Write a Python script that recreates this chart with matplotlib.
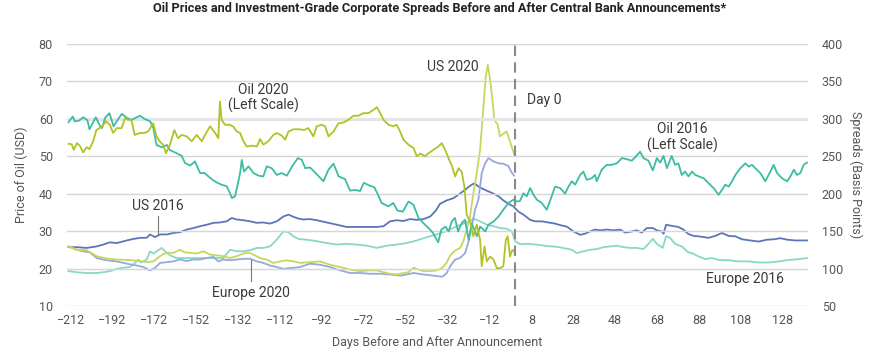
import matplotlib
matplotlib.use("Agg")
import matplotlib.pyplot as plt

# ---------------- data ----------------
oil2016_days = [-213, -211, -210, -208, -206, -204, -203, -200, -198, -197, -195.6, -193.5, -191.5, -190, -187.6, -185, -183, -180.5, -179, -176.5, -174, -172.5, -171, -168.5, -166, -164.5, -161.4, -159, -157.4, -155, -152.6, -150.2, -148, -145.4, -144, -142.3, -140, -137.5, -136, -135, -133.5, -132.4, -131.1, -130.3, -129.2, -127.1, -124.7, -122.3, -120, -118.4, -116, -113.6, -111.2, -108.8, -106, -103.5, -101.6, -100, -97.7, -94.5, -91.3, -88.9, -86.5, -84, -81, -78.6, -76.2, -73.8, -72, -69.5, -67, -65.5, -63.5, -60.3, -57.9, -56, -53.4, -50.7, -48.3, -45.9, -42.8, -40.4, -39, -36.5, -35, -33, -31.5, -30, -28.5, -27, -25.3, -23.7, -22, -20.5, -18, -16.5, -14, -12.5, -10, -7.7, -5.4, -3, -0.6, 1, 2.5, 4.2, 5.8, 7.4, 9, 10.6, 13, 15.3, 17.7, 19.3, 21.7, 24.1, 25.7, 27.3, 28.9, 31.3, 32.8, 34.4, 36.8, 38.4, 39.2, 41.6, 44, 46.4, 48.8, 51.2, 53.5, 55.9, 57.5, 59.9, 61.5, 63.9, 66, 67.9, 69.5, 71.1, 72.7, 75, 76.6, 78.2, 79.8, 81.4, 83, 84.7, 86.3, 87.9, 90.3, 92.6, 95, 97.4, 99, 100.6, 102.2, 103.8, 105.4, 107.8, 110.2, 111.8, 113.3, 114.9, 117.3, 119.7, 122.1, 123.7, 125.3, 127.7, 130.1, 131.7, 133.3, 134.8, 136.4, 138, 139.6]
oil2016_usd = [59.1, 60.6, 59.3, 59.5, 60.4, 59.6, 57.2, 60.4, 58.1, 57.5, 60.2, 61.5, 58.0, 59.3, 61.3, 60.2, 59.7, 60.4, 60.8, 59.9, 59.3, 57.5, 53.0, 52.4, 53.0, 51.6, 50.8, 50.1, 48.2, 47.5, 48.6, 45.5, 45.5, 44.2, 43.6, 43.0, 42.4, 42.0, 40.2, 38.8, 39.3, 42.0, 45.5, 49.0, 45.9, 47.3, 45.5, 44.8, 44.6, 47.3, 46.8, 45.0, 45.5, 44.8, 47.5, 49.5, 49.0, 46.8, 47.0, 45.2, 43.3, 46.4, 48.0, 44.6, 43.9, 40.8, 41.0, 40.7, 42.9, 42.2, 41.7, 40.0, 37.5, 36.6, 37.5, 35.5, 35.2, 37.9, 37.0, 33.5, 31.7, 30.4, 29.5, 27.0, 30.4, 31.2, 29.9, 32.6, 33.5, 29.9, 32.1, 33.0, 27.7, 32.1, 28.6, 31.2, 29.9, 31.7, 32.6, 33.9, 35.7, 37.5, 38.4, 37.9, 38.0, 40.1, 39.3, 41.5, 39.7, 38.4, 37.5, 35.7, 39.3, 41.9, 41.5, 40.0, 41.9, 43.3, 42.4, 45.0, 45.9, 43.7, 44.1, 45.0, 43.3, 46.4, 47.7, 47.7, 48.1, 49.5, 49.2, 48.8, 49.7, 51.2, 49.5, 48.8, 46.2, 49.5, 48.3, 50.1, 46.8, 50.1, 47.7, 48.1, 45.0, 45.9, 44.6, 45.9, 45.0, 44.6, 44.1, 42.8, 41.5, 39.7, 41.0, 42.4, 41.9, 43.3, 45.0, 46.8, 48.1, 47.2, 47.7, 46.8, 45.5, 43.3, 45.9, 47.7, 45.5, 44.1, 43.3, 44.6, 46.4, 45.0, 45.5, 47.7, 48.3]

oil2020_days = [-213, -211.5, -210.5, -209, -207.6, -206, -204.4, -203, -201.3, -199.7, -197.3, -195, -193.3, -191.7, -190, -187.7, -186, -184.5, -183, -181.4, -179, -177, -175, -172.6, -171, -169.4, -167.8, -166.5, -164.6, -162.5, -160.7, -159, -156.6, -154.2, -151.8, -149.4, -147.8, -145.4, -143, -141.5, -140.7, -139.9, -138.3, -136, -134.3, -132.7, -131.1, -129.5, -127.9, -125.5, -123.1, -121.5, -120, -117.6, -115.2, -113.6, -111.2, -109.6, -108, -105.6, -103, -100.6, -98.5, -96.1, -94.5, -92.1, -90.5, -88.9, -86.5, -84.1, -81.7, -79.4, -77, -74.6, -72.2, -69.8, -67.4, -65.8, -64.2, -62.6, -60.2, -57.9, -56.3, -54.7, -53.1, -50.7, -48.3, -46.7, -45.1, -42.7, -41.1, -38.8, -36.4, -34.8, -33.2, -31.6, -30, -28.4, -26.8, -25.3, -24, -22.9, -21.3, -19.7, -18.1, -16.5, -15.7, -14.4, -13.3, -11.7, -10.1, -8.5, -6.9, -5.4, -4.2, -3.3, -2.2, -1.1, -0.3]
oil2020_usd = [53.3, 53.2, 51.7, 53.5, 52.8, 51.0, 52.4, 51.9, 53.9, 57.0, 57.8, 59.3, 58.4, 56.2, 57.5, 57.5, 60.2, 59.7, 59.7, 55.7, 56.2, 56.2, 56.6, 58.8, 55.3, 53.9, 53.0, 50.8, 53.0, 57.0, 54.8, 55.7, 55.3, 54.0, 55.7, 54.0, 55.7, 58.0, 56.2, 54.8, 64.6, 59.7, 58.4, 58.4, 57.9, 56.6, 56.2, 54.0, 52.6, 52.8, 52.6, 54.6, 53.1, 54.0, 55.7, 56.2, 55.5, 54.4, 56.6, 57.2, 57.2, 57.0, 57.5, 55.3, 58.0, 58.4, 58.0, 55.3, 56.6, 58.8, 59.0, 59.7, 60.8, 60.8, 61.5, 61.5, 62.4, 63.1, 61.5, 59.7, 58.4, 58.0, 58.4, 56.6, 54.4, 53.1, 52.2, 50.0, 50.7, 50.0, 50.8, 51.7, 52.6, 53.5, 51.7, 49.5, 47.5, 44.6, 46.8, 45.9, 41.9, 34.4, 32.6, 28.6, 31.7, 27.7, 20.6, 25.9, 21.9, 23.2, 22.4, 20.1, 20.1, 20.6, 27.7, 28.6, 23.2, 25.0, 24.6]

us2020_days = [-213, -209, -204.4, -199.7, -194.9, -190, -185, -180.5, -175.7, -172.5, -170, -167.7, -165.3, -162.9, -159.8, -157.4, -154.6, -151.8, -148.6, -145.4, -142.3, -139.1, -135.9, -132.7, -129.5, -127.1, -124.7, -121.6, -118.4, -115.2, -112, -108.8, -105.6, -102.4, -97.7, -92.9, -88.1, -83.3, -78.6, -73.8, -69, -65.8, -62.6, -59.5, -56.3, -53.1, -50.7, -48.3, -45.9, -43.5, -40.3, -37.2, -34.5, -32.5, -30.8, -28.4, -26, -24.5, -22.9, -21.3, -19.7, -18.1, -16.5, -14.9, -13.8, -12.8, -11.7, -10.6, -9.7, -8.1, -7, -5.4, -3.8, -2.2, -0.3]
us2020_bp = [129.5, 125.0, 124.5, 116.5, 113.5, 112.0, 111.5, 110.5, 108.5, 109.5, 115.0, 119.5, 121.0, 121.0, 125.0, 121.5, 121.0, 120.0, 123.0, 118.5, 117.5, 116.5, 114.0, 116.5, 120.0, 121.5, 118.5, 114.0, 112.0, 107.5, 109.5, 111.0, 109.5, 107.5, 108.5, 109.5, 105.0, 102.0, 98.5, 96.5, 97.5, 97.5, 95.0, 93.0, 92.0, 94.0, 95.0, 101.0, 98.5, 96.5, 96.5, 97.5, 101.0, 107.5, 117.5, 124.0, 127.5, 136.5, 152.0, 169.5, 200.5, 227.5, 258.5, 316.5, 356.5, 372.0, 352.0, 325.5, 298.5, 292.0, 276.5, 280.0, 283.0, 269.5, 253.0]

eu2020_days = [-213, -209, -206, -202.8, -199.6, -194.8, -190, -185.2, -180.5, -177.3, -174.1, -171.7, -169.3, -166.1, -163, -159.8, -156.6, -153.4, -150.2, -147, -143.8, -141.5, -139.1, -135.9, -132.7, -129.5, -126.3, -123.1, -120, -116.8, -113.6, -110.4, -107.2, -102.4, -97.7, -92.9, -88.1, -83.3, -78.6, -73.8, -69, -64.2, -59.5, -54.7, -51.5, -48.3, -43.5, -38.8, -34.5, -32.4, -30.8, -28.4, -26.1, -23.7, -22.1, -20.5, -18.9, -17.3, -15.7, -14.1, -12.5, -10.1, -7.7, -5.4, -3, -1.7, -0.3]
eu2020_bp = [129.5, 125.0, 123.0, 121.5, 114.0, 111.0, 109.5, 106.5, 104.0, 102.0, 97.5, 101.0, 107.5, 108.5, 109.5, 112.0, 110.0, 112.0, 112.0, 114.0, 115.5, 109.5, 112.0, 111.0, 112.0, 113.0, 113.0, 109.5, 107.5, 104.0, 102.0, 99.5, 100.5, 102.0, 106.5, 105.0, 102.0, 97.5, 94.0, 94.0, 93.0, 93.0, 92.0, 90.5, 92.0, 94.0, 92.0, 90.5, 89.0, 94.0, 103.0, 112.0, 114.0, 120.5, 135.0, 156.0, 178.5, 192.0, 227.5, 240.5, 247.5, 243.0, 240.5, 240.0, 237.0, 229.5, 224.0]

us2016_days = [-213, -209, -204.4, -199.6, -196.4, -193.2, -190, -185.2, -182.1, -178.9, -175.7, -174.1, -171.7, -169.3, -166.1, -163, -159.8, -156.6, -153.4, -150.2, -147, -143.8, -140.7, -137.5, -135.1, -132.7, -129.5, -126.3, -123.1, -120, -116.8, -113.6, -110.4, -108, -105.6, -103, -100.9, -97.7, -94.5, -89.7, -84.9, -80.2, -75.4, -70.6, -65.8, -62.6, -59.5, -56.3, -53.1, -49.9, -46.7, -43.5, -40.3, -37.6, -35.6, -32.4, -29.2, -26.1, -23.7, -21.3, -19.2, -17.3, -14.9, -12.5, -10.1, -7.7, -5.4, -3, -0.6, 1.8, 4.2, 7.4, 9.8, 13, 16.1, 19.3, 21.7, 24.9, 28.1, 31.3, 33.6, 36, 38.4, 40.8, 44, 47.2, 50.4, 52.8, 55.9, 58.3, 60.7, 63.1, 66, 67.9, 70.3, 71.1, 72.3, 75, 78.2, 80.6, 83, 85.5, 87.9, 92.6, 95.8, 99, 102.2, 105.4, 108.6, 112.5, 116.5, 120.5, 123.7, 126.9, 130.1, 134, 139.6]
us2016_bp = [128.5, 128.5, 127.5, 129.5, 132.0, 135.0, 134.0, 137.5, 139.5, 141.0, 141.0, 145.5, 142.0, 145.5, 145.5, 147.5, 148.5, 152.0, 154.0, 156.5, 158.5, 161.0, 161.5, 163.0, 167.5, 165.5, 164.5, 163.0, 161.0, 161.5, 160.0, 163.0, 169.5, 172.0, 169.0, 166.5, 165.5, 166.0, 164.5, 161.5, 158.5, 155.5, 155.5, 155.5, 155.5, 156.5, 163.0, 164.5, 163.5, 166.0, 165.0, 166.0, 169.5, 177.5, 186.5, 191.0, 194.0, 200.0, 205.0, 210.5, 214.0, 209.5, 206.0, 203.0, 200.0, 196.5, 191.0, 186.5, 183.0, 176.0, 172.0, 165.0, 163.0, 163.0, 161.5, 160.0, 158.0, 156.0, 149.5, 145.0, 146.5, 149.5, 152.0, 151.0, 152.0, 151.0, 152.0, 148.0, 149.5, 151.0, 148.0, 154.0, 154.0, 151.0, 149.5, 146.5, 158.5, 157.0, 155.5, 152.0, 146.0, 143.5, 143.0, 141.0, 143.5, 147.5, 143.5, 143.0, 139.0, 137.5, 136.0, 138.5, 139.0, 140.5, 138.5, 137.5, 137.5]

eu2016_days = [-213, -209, -204.4, -199.6, -196.4, -193.2, -190, -186.8, -183.7, -181.3, -179.7, -178.5, -177.3, -175.7, -174.1, -172.5, -170.9, -168.5, -166.9, -164.5, -161.4, -156.6, -151.8, -147, -143, -139.1, -135.9, -132.7, -129.5, -126.3, -123.1, -120, -116.8, -113.6, -110.4, -108, -105.6, -103.2, -99.3, -94.5, -89.7, -84.9, -80.2, -75.4, -70.6, -65.8, -61, -56.3, -51.5, -46.7, -41.9, -37.2, -32.4, -27.6, -22.8, -19.6, -16.5, -13.3, -10.1, -6.9, -3.7, -1.3, 0.3, 2.6, 5.8, 10.6, 15.4, 20.2, 24.9, 27.3, 29.7, 32.8, 36, 39.2, 42.4, 45.6, 48.8, 52, 55.1, 58.3, 61.5, 63.9, 66, 67.9, 70.7, 72.3, 74.2, 76.6, 79.8, 83, 84.7, 87.9, 91, 94.2, 97.4, 102.2, 107, 111.8, 116.5, 121.3, 126.1, 130.9, 135.6, 139.6]
eu2016_bp = [96.5, 95.0, 94.0, 94.0, 95.0, 96.5, 99.5, 101.0, 102.0, 107.5, 112.0, 108.0, 109.5, 112.0, 123.0, 120.0, 123.0, 127.5, 123.0, 117.5, 114.0, 114.0, 114.0, 114.0, 114.0, 114.0, 125.0, 123.0, 123.0, 124.5, 127.5, 127.5, 129.5, 138.5, 149.5, 148.5, 143.0, 139.5, 138.5, 136.5, 134.0, 132.0, 133.0, 132.0, 130.5, 127.5, 130.5, 132.0, 134.0, 137.5, 142.0, 145.5, 150.0, 156.5, 161.5, 166.5, 163.0, 158.5, 156.5, 154.0, 153.0, 149.5, 136.5, 132.5, 133.0, 132.0, 130.0, 129.0, 126.5, 125.0, 120.5, 123.0, 125.0, 126.0, 128.5, 129.5, 130.5, 128.5, 127.5, 127.5, 126.0, 133.0, 139.5, 133.0, 127.5, 143.0, 141.0, 133.0, 129.5, 121.5, 120.5, 116.0, 112.5, 114.0, 111.5, 111.0, 109.5, 109.5, 108.0, 108.0, 109.5, 111.5, 112.5, 114.0]

x_ticks = [-212, -192, -172, -152, -132, -112, -92, -72, -52, -32, -12, 8, 28, 48, 68, 88, 108, 128]
left_ticks = [10, 20, 30, 40, 50, 60, 70, 80]
right_ticks = [50, 100, 150, 200, 250, 300, 350, 400]

title = "Oil Prices and Investment-Grade Corporate Spreads Before and After Central Bank Announcements*"

# ---------------- styling ----------------
plt.rcParams['font.family'] = ['Roboto', 'DejaVu Sans']
C_OIL16 = '#3dbca4'
C_OIL20 = '#b2c224'
C_US20 = '#c9d65c'
C_EU20 = '#95a9dc'
C_US16 = '#5a76b8'
C_EU16 = '#88d8c8'
TXT = '#3a3a3a'
TICK = '#555555'
GRID = '#d6d6d6'

fig = plt.figure(figsize=(8.8, 3.57), dpi=100)
ax = fig.add_axes([0.076, 0.143, 0.842, 0.734])
ax2 = ax.twinx()

ax.set_xlim(-213.8, 140)
ax.set_ylim(10, 80)
ax2.set_ylim(50, 400)

for v in left_ticks:
    if v == 60:
        ax.axhline(v, color='#e4e4e4', lw=2.2, zorder=0)
    else:
        ax.axhline(v, color=GRID, lw=1.0, zorder=0)

lw = 1.3
# right-scale series (spreads, bp)
ax2.plot(eu2016_days, eu2016_bp, color=C_EU16, lw=lw, zorder=2)
ax2.plot(us2016_days, us2016_bp, color=C_US16, lw=lw, zorder=2)
ax2.plot(eu2020_days, eu2020_bp, color=C_EU20, lw=lw, zorder=2)
ax2.plot(us2020_days, us2020_bp, color=C_US20, lw=lw, zorder=2)
# left-scale series (oil, USD)
ax.plot(oil2016_days, oil2016_usd, color=C_OIL16, lw=lw, zorder=3)
ax.plot(oil2020_days, oil2020_usd, color=C_OIL20, lw=lw, zorder=3)

ax.axvline(0, color='#8a8a8a', lw=1.5, ls=(0, (5, 3)), zorder=4)

for a in (ax, ax2):
    for s in a.spines.values():
        s.set_visible(False)
    a.tick_params(length=0, labelsize=9, colors=TICK)

ax.set_xticks(x_ticks)
ax.set_yticks(left_ticks)
ax2.set_yticks(right_ticks)
ax.tick_params(axis='x', pad=6)
ax.tick_params(axis='y', pad=10)
ax2.tick_params(axis='y', pad=10)

ax.set_ylabel("Price of Oil (USD)", fontsize=9, color=TICK, labelpad=8)
ax2.set_ylabel("Spreads (Basis Points)", fontsize=9, color=TICK, rotation=270, labelpad=14)
ax.set_xlabel("Days Before and After Announcement", fontsize=9, color=TICK, labelpad=6)

fig.text(0.5, 0.975, title, ha='center', va='center', fontsize=9.2, fontweight='bold', color='#222222')

fs = 10
ax.text(-120, 65.6, "Oil 2020\n(Left Scale)", ha='center', va='center', fontsize=fs, color=TXT, linespacing=1.1, zorder=5)
ax.text(-17, 73.7, "US 2020", ha='right', va='center', fontsize=fs, color=TXT, zorder=5)
ax.text(6, 65.0, "Day 0", ha='left', va='center', fontsize=fs, color=TXT, zorder=5)
ax.text(80, 55.0, "Oil 2016\n(Left Scale)", ha='center', va='center', fontsize=fs, color=TXT, linespacing=1.1, zorder=5)
ax.text(-170.2, 36.6, "US 2016", ha='center', va='center', fontsize=fs, color=TXT, zorder=5)
ax.plot([-170.2, -170.2], [34.0, 29.3], color='#777777', lw=0.8, zorder=5)
ax.text(-126, 13.4, "Europe 2020", ha='center', va='center', fontsize=fs, color=TXT, zorder=5)
ax.plot([-126, -126], [22.2, 16.6], color='#777777', lw=0.8, zorder=5)
ax.text(110, 17.3, "Europe 2016", ha='center', va='center', fontsize=fs, color=TXT, zorder=5)

ax.set_zorder(ax2.get_zorder() + 1)
ax.patch.set_visible(False)

fig.savefig("out.png", dpi=100)
